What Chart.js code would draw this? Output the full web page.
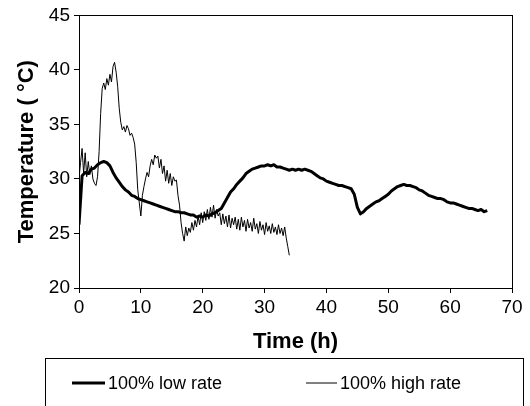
<!DOCTYPE html>
<html>
<head>
<meta charset="utf-8">
<script src="https://cdn.jsdelivr.net/npm/chart.js@4"></script>
<style>
  html, body { margin: 0; padding: 0; background: #fff; }
  #wrap { position: relative; width: 530px; height: 406px; }
</style>
</head>
<body>
<div id="wrap"><canvas id="chart" width="530" height="406"></canvas></div>
<script>
// time step of each logged series (h)
const highStep = 0.25;
const lowStep = 0.5;

// 100% high rate, every 0.25 h from 0 to 34 h (deg C)
const highRate = [
  30.0, 31.5, 32.8, 30.5, 32.4, 30.2, 31.6, 30.4, 31.2, 30.0, 29.6, 29.4,
  30.2, 32.5, 36.0, 38.3, 38.8, 38.2, 39.2, 38.6, 39.6, 38.9, 40.3, 40.7,
  39.8, 38.5, 36.5, 35.2, 34.5, 34.8, 34.3, 34.9, 34.6, 34.0, 34.2, 33.8,
  33.2, 31.5, 29.0, 27.8, 26.6, 28.5, 29.3, 30.0, 30.6, 30.2, 31.2, 31.8,
  31.3, 32.2, 31.9, 32.1, 31.0, 31.8, 30.5, 31.2, 29.8, 30.8, 29.6, 30.5,
  29.4, 30.2, 29.8, 29.9, 28.5, 27.6, 26.0, 25.0, 24.3, 25.6, 24.8, 25.5,
  25.1, 26.0, 25.3, 26.2, 25.6, 26.6, 25.8, 26.9, 26.0, 27.0, 26.2, 27.2,
  26.3, 27.4, 26.5, 27.6, 26.4, 27.2, 26.6, 26.9, 25.8, 26.8, 25.9, 26.6,
  25.6, 26.7, 25.5, 26.4, 25.8, 26.5, 25.4, 26.3, 25.3, 26.5, 25.6, 26.2,
  25.2, 26.3, 25.5, 26.0, 25.2, 26.4, 25.4, 25.9, 25.0, 26.1, 25.3, 25.8,
  24.9, 26.0, 25.2, 25.7, 25.0, 25.9, 25.1, 25.6, 24.9, 25.8, 25.0, 25.5,
  24.8, 25.6, 24.6, 23.8, 23.0
];

// 100% low rate, every 0.5 h from 0 to 66 h (deg C)
const lowRate = [
  25.8, 30.3, 30.6, 30.5, 30.9, 31.0, 31.3, 31.5, 31.6, 31.5, 31.2, 30.6,
  30.1, 29.7, 29.3, 29.0, 28.8, 28.5, 28.4, 28.2, 28.1, 28.0, 27.9, 27.8,
  27.7, 27.6, 27.5, 27.4, 27.3, 27.2, 27.1, 27.0, 27.0, 26.9, 26.9, 26.8,
  26.7, 26.7, 26.5, 26.6, 26.5, 26.7, 26.6, 26.8, 26.9, 27.1, 27.3, 27.8,
  28.3, 28.8, 29.1, 29.5, 29.8, 30.1, 30.5, 30.7, 30.9, 31.0, 31.1, 31.2,
  31.2, 31.3, 31.2, 31.3, 31.1, 31.1, 31.0, 30.9, 30.8, 30.9, 30.8, 30.9,
  30.8, 30.9, 30.8, 30.7, 30.5, 30.3, 30.1, 30.0, 29.8, 29.7, 29.6, 29.5,
  29.4, 29.4, 29.3, 29.2, 29.1, 28.6, 27.4, 26.8, 27.0, 27.3, 27.5, 27.7,
  27.9, 28.0, 28.2, 28.4, 28.6, 28.9, 29.1, 29.3, 29.4, 29.5, 29.4, 29.4,
  29.3, 29.2, 29.0, 28.9, 28.7, 28.5, 28.4, 28.3, 28.2, 28.2, 28.1, 27.9,
  27.8, 27.8, 27.7, 27.6, 27.5, 27.4, 27.3, 27.3, 27.2, 27.1, 27.2, 27.0,
  27.1
];

const seriesNames = ['100% low rate', '100% high rate'];
const xTicks = [0, 10, 20, 30, 40, 50, 60, 70];
const yTicks = [20, 25, 30, 35, 40, 45];

const lowPoints = lowRate.map((v, i) => ({ x: i * lowStep, y: v }));
const highPoints = highRate.map((v, i) => ({ x: i * highStep, y: v }));

const font = 'Arial, "Liberation Sans", sans-serif';

// box round the plot area
const framePlugin = {
  id: 'frame',
  afterDraw(chart) {
    const a = chart.chartArea;
    const c = chart.ctx;
    c.save();
    c.strokeStyle = '#000';
    c.lineWidth = 1;
    c.strokeRect(Math.round(a.left) + 0.5, Math.round(a.top) + 0.5,
                 Math.round(a.right - a.left), Math.round(a.bottom - a.top));
    c.restore();
  }
};

// legend in a box under the axis title
const legendBoxPlugin = {
  id: 'legendBox',
  afterDraw(chart) {
    const c = chart.ctx;
    const ds = chart.data.datasets;
    const itemX = [72, 306];
    const lineLen = [33, 31];
    const y = 383;
    c.save();
    c.strokeStyle = '#000';
    c.lineWidth = 1;
    c.strokeRect(45.5, 358.5, 478, 60);
    c.font = '18px ' + font;
    c.fillStyle = '#000';
    c.textBaseline = 'middle';
    ds.forEach((d, i) => {
      c.beginPath();
      c.lineWidth = d.borderWidth;
      c.moveTo(itemX[i], y);
      c.lineTo(itemX[i] + lineLen[i], y);
      c.stroke();
      c.fillText(d.label, itemX[i] + lineLen[i] + 3, y + 1);
    });
    c.restore();
  }
};

new Chart(document.getElementById('chart'), {
  type: 'line',
  data: {
    datasets: [
      { label: seriesNames[0], data: lowPoints, borderColor: '#000', borderWidth: 3,
        pointRadius: 0, tension: 0, borderJoinStyle: 'round' },
      { label: seriesNames[1], data: highPoints, borderColor: '#000', borderWidth: 1,
        pointRadius: 0, tension: 0 }
    ]
  },
  options: {
    responsive: false,
    animation: false,
    events: [],
    layout: { padding: { left: 0, right: 18, top: 14, bottom: 51 } },
    plugins: { legend: { display: false }, tooltip: { enabled: false } },
    scales: {
      x: {
        type: 'linear',
        min: xTicks[0],
        max: xTicks[xTicks.length - 1],
        afterBuildTicks: s => { s.ticks = xTicks.map(v => ({ value: v })); },
        afterFit: s => { s.height = 67; },
        grid: { drawOnChartArea: false, tickLength: 5, color: '#000', tickColor: '#000' },
        border: { color: '#000', width: 1 },
        ticks: { color: '#000', font: { family: font, size: 19 }, padding: 3, maxRotation: 0 },
        title: { display: true, text: 'Time (h)', color: '#000',
                 font: { family: font, size: 22, weight: 'bold' }, padding: { top: 0, bottom: 0 } }
      },
      y: {
        min: yTicks[0],
        max: yTicks[yTicks.length - 1],
        afterBuildTicks: s => { s.ticks = yTicks.map(v => ({ value: v })); },
        afterFit: s => { s.width = 79; },
        grid: { drawOnChartArea: false, tickLength: 5, color: '#000', tickColor: '#000' },
        border: { color: '#000', width: 1 },
        ticks: { color: '#000', font: { family: font, size: 19 }, padding: 4 },
        title: { display: true, text: 'Temperature ( \u00B0C)', color: '#000',
                 font: { family: font, size: 22, weight: 'bold' }, padding: { top: 14, bottom: 0 } }
      }
    }
  },
  plugins: [framePlugin, legendBoxPlugin]
});
</script>
</body>
</html>
